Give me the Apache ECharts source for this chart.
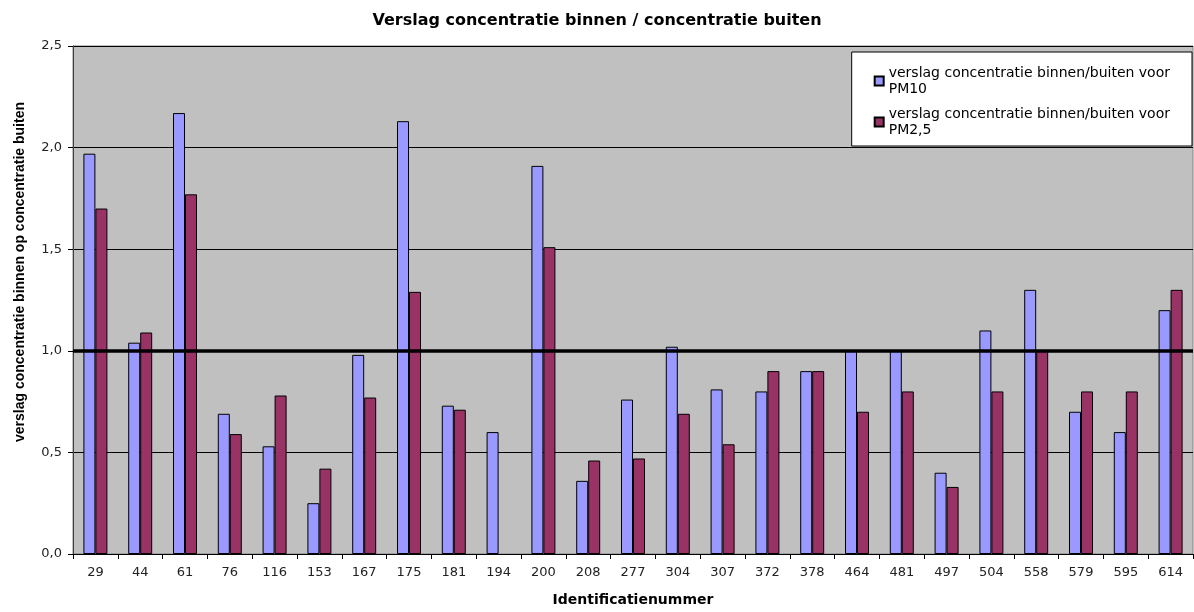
<!DOCTYPE html>
<html>
<head>
<meta charset="utf-8">
<script src="https://cdn.jsdelivr.net/npm/echarts@6/dist/echarts.min.js"></script>
<style>
  html, body { margin: 0; padding: 0; background: #fff; }
  #chart { width: 1194px; height: 612px; }
</style>
</head>
<body>
<div id="chart"></div>
<script>
// Identificatienummer
var categories = ['29','44','61','76','116','153','167','175','181','194','200','208','277','304','307','372','378','464','481','497','504','558','579','595','614'];
// verslag PM10
var pm10 = [1.97,1.04,2.17,0.69,0.53,0.25,0.98,2.13,0.73,0.60,1.91,0.36,0.76,1.02,0.81,0.80,0.90,1.00,1.00,0.40,1.10,1.30,0.70,0.60,1.20];
// verslag PM2,5 (194 heeft geen waarde)
var pm25 = [1.70,1.09,1.77,0.59,0.78,0.42,0.77,1.29,0.71,null,1.51,0.46,0.47,0.69,0.54,0.90,0.90,0.70,0.80,0.33,0.80,1.00,0.80,0.80,1.30];
var refLine = 1.0;

var font = 'DejaVu Sans';
var myChart = echarts.init(document.getElementById('chart'));

myChart.setOption({
  animation: false,
  backgroundColor: '#ffffff',
  textStyle: { fontFamily: font },
  title: {
    text: 'Verslag concentratie binnen / concentratie buiten',
    left: 'center',
    top: 8,
    textStyle: { fontFamily: font, fontSize: 16, fontWeight: 'bold', color: '#000' }
  },
  grid: {
    left: 73, right: 1, top: 46, bottom: 58,
    show: true,
    backgroundColor: '#c0c0c0',
    borderColor: '#808080',
    borderWidth: 1
  },
  legend: {
    orient: 'vertical',
    right: 2,
    top: 52,
    backgroundColor: '#ffffff',
    borderColor: '#000',
    borderWidth: 1,
    padding: [5, 22, 0, 22],
    itemGap: -7,
    itemWidth: 9,
    itemHeight: 9,
    icon: 'rect',
    formatter: function (name) {
      return name.replace(' PM', '\nPM');
    },
    textStyle: {
      fontFamily: font, fontSize: 14, color: '#000',
      lineHeight: 16, padding: [16, 0, 0, 0]
    }
  },
  xAxis: {
    type: 'category',
    data: categories,
    name: 'Identificatienummer',
    nameLocation: 'middle',
    nameGap: 39,
    nameTextStyle: { fontFamily: font, fontSize: 14, fontWeight: 'bold', color: '#000' },
    axisLine: { lineStyle: { color: '#000', width: 1 } },
    axisTick: { show: true, length: 5, lineStyle: { color: '#000' } },
    axisLabel: { fontFamily: font, fontSize: 13, color: '#222', margin: 12 },
    splitLine: { show: false }
  },
  yAxis: {
    type: 'value',
    min: 0, max: 2.5, interval: 0.5,
    name: 'verslag concentratie binnen op concentratie buiten',
    nameLocation: 'middle',
    nameGap: 46,
    nameTextStyle: {
      fontFamily: 'Liberation Sans', fontSize: 14, fontWeight: 'bold', color: '#000',
      padding: [0, 0, 0, 56]
    },
    axisLine: { show: true, lineStyle: { color: '#404040', width: 1 } },
    axisTick: { show: true, length: 5, lineStyle: { color: '#000' } },
    axisLabel: {
      fontFamily: font, fontSize: 13, color: '#222', margin: 11,
      formatter: function (v) { return v.toFixed(1).replace('.', ','); }
    },
    splitLine: { show: true, lineStyle: { color: '#000', width: 1 } }
  },
  series: [
    {
      name: 'verslag concentratie binnen/buiten voor PM10',
      type: 'bar',
      data: pm10,
      barWidth: 12,
      barGap: '0%',
      itemStyle: { color: '#9999ff', borderColor: '#000', borderWidth: 1 },
      markLine: {
        silent: true,
        symbol: 'none',
        label: { show: false },
        lineStyle: { color: '#000', width: 3.5, type: 'solid' },
        data: [{ yAxis: refLine }]
      }
    },
    {
      name: 'verslag concentratie binnen/buiten voor PM2,5',
      type: 'bar',
      data: pm25,
      barWidth: 12,
      barGap: '0%',
      itemStyle: { color: '#993366', borderColor: '#000', borderWidth: 1 }
    }
  ]
});
</script>
</body>
</html>
